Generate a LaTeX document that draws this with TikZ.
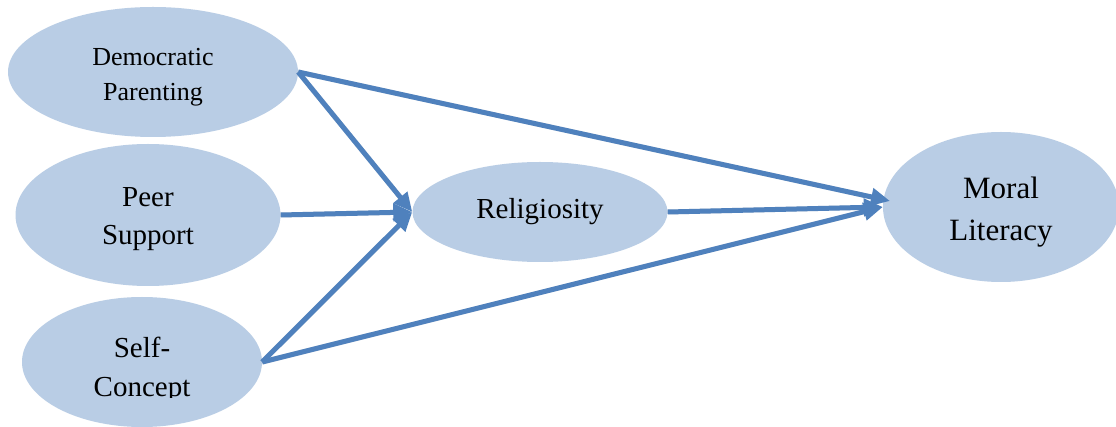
\documentclass[tikz,border=0pt]{standalone}
\usepackage{fontspec}
\setmainfont{Liberation Serif}
\usetikzlibrary{arrows.meta,shapes.geometric}
\definecolor{ellfill}{HTML}{B9CDE5}
\definecolor{arrblue}{HTML}{4F81BD}
\tikzset{
  ell/.style={ellipse, fill=ellfill, draw=none, inner sep=0pt},
  txt/.style={align=center, inner sep=0pt, text=black},
  conn/.style={arrblue, line width=5pt, -{Triangle[length=19pt,width=17pt]}},
  connshadow/.style={black, opacity=0.1, line width=5pt, shorten >=8pt},
}
\begin{document}
\begin{tikzpicture}[x=1pt,y=-1pt]
\useasboundingbox (0,0) rectangle (1116,427);
\fill[white] (0,0) rectangle (1116,427);
\clip (0,0) rectangle (1116,427);
% ellipses
\node[ell, minimum width=290, minimum height=130] (dp) at (153,72) {};
\node[ell, minimum width=265, minimum height=142] (peer) at (148,215) {};
\node[ell, minimum width=240, minimum height=130] (self) at (142,362) {};
\node[ell, minimum width=255, minimum height=100] (rel) at (540,212) {};
\node[ell, minimum width=236, minimum height=150] (moral) at (1001,207) {};
\coordinate (mtop) at (890,201);
% texts
\node[txt, font=\fontsize{26}{35}\selectfont] (dpt) at (153,77) {Democratic\\Parenting};
\node[txt, font=\fontsize{29}{38}\selectfont] (peert) at (148,219) {Peer\\Support};
\node[txt, font=\fontsize{29}{40}\selectfont] (relt) at (540,212) {Religiosity};
\node[txt, font=\fontsize{31}{42}\selectfont] (moralt) at (1001,212) {Moral\\Literacy};
\begin{scope}
\clip (0,0) rectangle (1116,397);
\node[txt, font=\fontsize{29}{39}\selectfont] (selft) at (142,370) {Self-\\Concept};
\end{scope}
% shadows
\begin{scope}[shift={(1.5,2.5)}]
\draw[connshadow] (dp.east) -- (rel.west);
\draw[connshadow] (dp.east) -- (mtop);
\draw[connshadow] (peer.east) -- (rel.west);
\draw[connshadow] (self.east) -- (rel.west);
\draw[connshadow] (self.east) -- (moral.west);
\draw[connshadow] (rel.east) -- (moral.west);
\end{scope}
% connectors
\draw[conn] (dp.east) -- (mtop);
\draw[conn] (self.east) -- (moral.west);
\draw[conn] (rel.east) -- (moral.west);
\draw[conn] (dp.east) -- (rel.west);
\draw[conn] (peer.east) -- (rel.west);
\draw[conn] (self.east) -- (rel.west);
\end{tikzpicture}
\end{document}
